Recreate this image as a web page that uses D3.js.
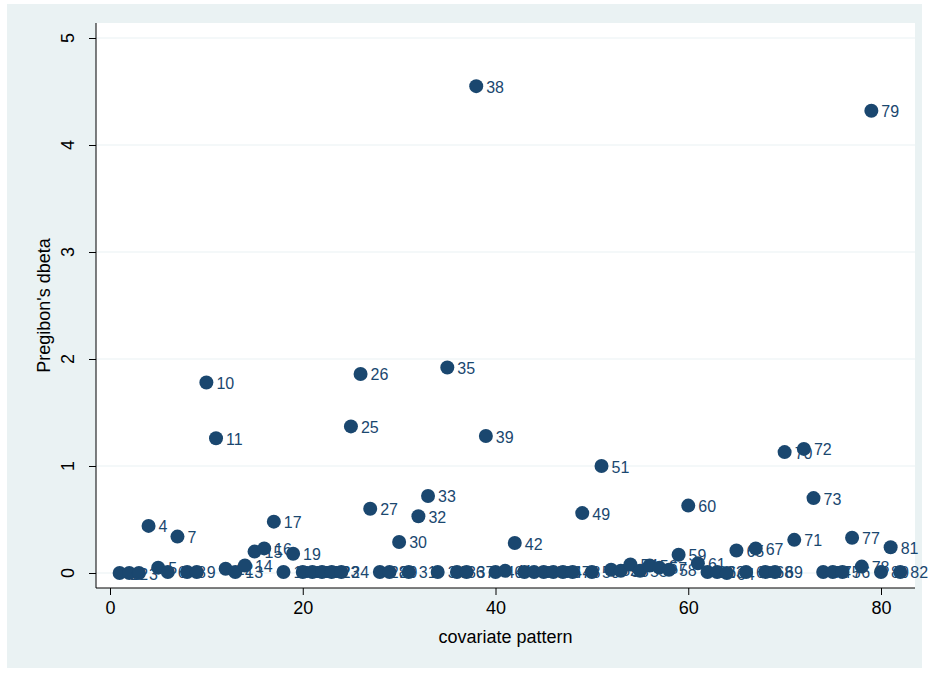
<!DOCTYPE html>
<html>
<head>
<meta charset="utf-8">
<script src="https://cdn.jsdelivr.net/npm/d3@7"></script>
<style>
  html, body { margin: 0; padding: 0; background: #ffffff; }
  svg { display: block; font-family: "Liberation Sans", Arial, Helvetica, sans-serif; }
</style>
</head>
<body>
<svg id="chart" width="930" height="673"></svg>
<script>
// covariate pattern ids and Pregibon's dbeta values
const patterns = [1, 2, 3, 4, 5, 6, 7, 8, 9, 10, 11, 12, 13, 14, 15, 16, 17, 18, 19, 20,
  21, 22, 23, 24, 25, 26, 27, 28, 29, 30, 31, 32, 33, 34, 35, 36, 37, 38, 39, 40,
  41, 42, 43, 44, 45, 46, 47, 48, 49, 50, 51, 52, 53, 54, 55, 56, 57, 58, 59, 60,
  61, 62, 63, 64, 65, 66, 67, 68, 69, 70, 71, 72, 73, 74, 75, 76, 77, 78, 79, 80,
  81, 82];
const dbeta = [0.00, 0.00, 0.00, 0.44, 0.05, 0.01, 0.34, 0.01, 0.01, 1.78,
  1.26, 0.04, 0.01, 0.07, 0.20, 0.23, 0.48, 0.01, 0.18, 0.01,
  0.01, 0.01, 0.01, 0.01, 1.37, 1.86, 0.60, 0.01, 0.01, 0.29,
  0.01, 0.53, 0.72, 0.01, 1.92, 0.01, 0.01, 4.55, 1.28, 0.01,
  0.02, 0.28, 0.01, 0.01, 0.01, 0.01, 0.01, 0.01, 0.56, 0.01,
  1.00, 0.03, 0.02, 0.08, 0.02, 0.07, 0.05, 0.03, 0.17, 0.63,
  0.09, 0.01, 0.01, 0.00, 0.21, 0.01, 0.23, 0.01, 0.01, 1.13,
  0.31, 1.16, 0.70, 0.01, 0.01, 0.01, 0.33, 0.06, 4.32, 0.01,
  0.24, 0.01];
const xTicks = [0, 20, 40, 60, 80];
const yTicks = [0, 1, 2, 3, 4, 5];

const data = patterns.map((p, i) => ({ x: p, y: dbeta[i] }));

const navy = "#1a476f";
const svg = d3.select("#chart");

// outer graph region
svg.append("rect")
  .attr("x", 7).attr("y", 4)
  .attr("width", 915).attr("height", 664)
  .attr("fill", "#eaf2f3");

// plot region
const plot = { left: 96, right: 915, top: 23, bottom: 588 };
svg.append("rect")
  .attr("x", plot.left).attr("y", plot.top)
  .attr("width", plot.right - plot.left).attr("height", plot.bottom - plot.top)
  .attr("fill", "#ffffff");

const x = d3.scaleLinear().domain([0, 80]).range([110, 881]);
const y = d3.scaleLinear().domain([0, 5]).range([573, 38]);

// gridlines
svg.append("g")
  .selectAll("line")
  .data(yTicks)
  .enter().append("line")
  .attr("x1", plot.left).attr("x2", plot.right)
  .attr("y1", d => y(d)).attr("y2", d => y(d))
  .attr("stroke", "#eaf2f3")
  .attr("stroke-width", 1.2);

// y axis (tick labels drawn rotated, Stata style)
const yAxis = svg.append("g")
  .attr("transform", `translate(${plot.left},0)`)
  .call(d3.axisLeft(y).tickValues(yTicks).tickSize(7).tickFormat(""));
yAxis.select(".domain").attr("d", `M0,${plot.top}V${plot.bottom}`).attr("stroke", "#000");
yAxis.selectAll(".tick line").attr("stroke", "#000");
yAxis.selectAll(".tick text").remove();

svg.append("g")
  .selectAll("text")
  .data(yTicks)
  .enter().append("text")
  .attr("transform", d => `translate(${plot.left - 28},${y(d)}) rotate(-90)`)
  .attr("text-anchor", "middle")
  .attr("dy", "0.36em")
  .attr("font-size", 18)
  .attr("fill", "#000")
  .text(d => d);

// x axis
const xAxis = svg.append("g")
  .attr("transform", `translate(0,${plot.bottom})`)
  .call(d3.axisBottom(x).tickValues(xTicks).tickSize(7).tickPadding(6).tickFormat(d3.format("d")));
xAxis.select(".domain").attr("d", `M${plot.left},0H${plot.right}`).attr("stroke", "#000");
xAxis.selectAll(".tick line").attr("stroke", "#000");
xAxis.selectAll(".tick text").attr("font-size", 18).attr("fill", "#000");

// axis titles
svg.append("text")
  .attr("x", (plot.left + plot.right) / 2)
  .attr("y", 643)
  .attr("text-anchor", "middle")
  .attr("font-size", 18)
  .attr("fill", "#000")
  .text("covariate pattern");

svg.append("text")
  .attr("transform", `translate(44,${(plot.top + plot.bottom) / 2}) rotate(-90)`)
  .attr("text-anchor", "middle")
  .attr("dy", "0.36em")
  .attr("font-size", 18)
  .attr("fill", "#000")
  .text("Pregibon's dbeta");

// markers and their labels
const pts = svg.append("g");
pts.selectAll("circle")
  .data(data)
  .enter().append("circle")
  .attr("cx", d => x(d.x))
  .attr("cy", d => y(d.y))
  .attr("r", 7)
  .attr("fill", navy);

pts.selectAll("text")
  .data(data)
  .enter().append("text")
  .attr("x", d => x(d.x) + 10)
  .attr("y", d => y(d.y) + 1)
  .attr("dominant-baseline", "central")
  .attr("font-size", 16)
  .attr("fill", navy)
  .text(d => d.x);
</script>
</body>
</html>
